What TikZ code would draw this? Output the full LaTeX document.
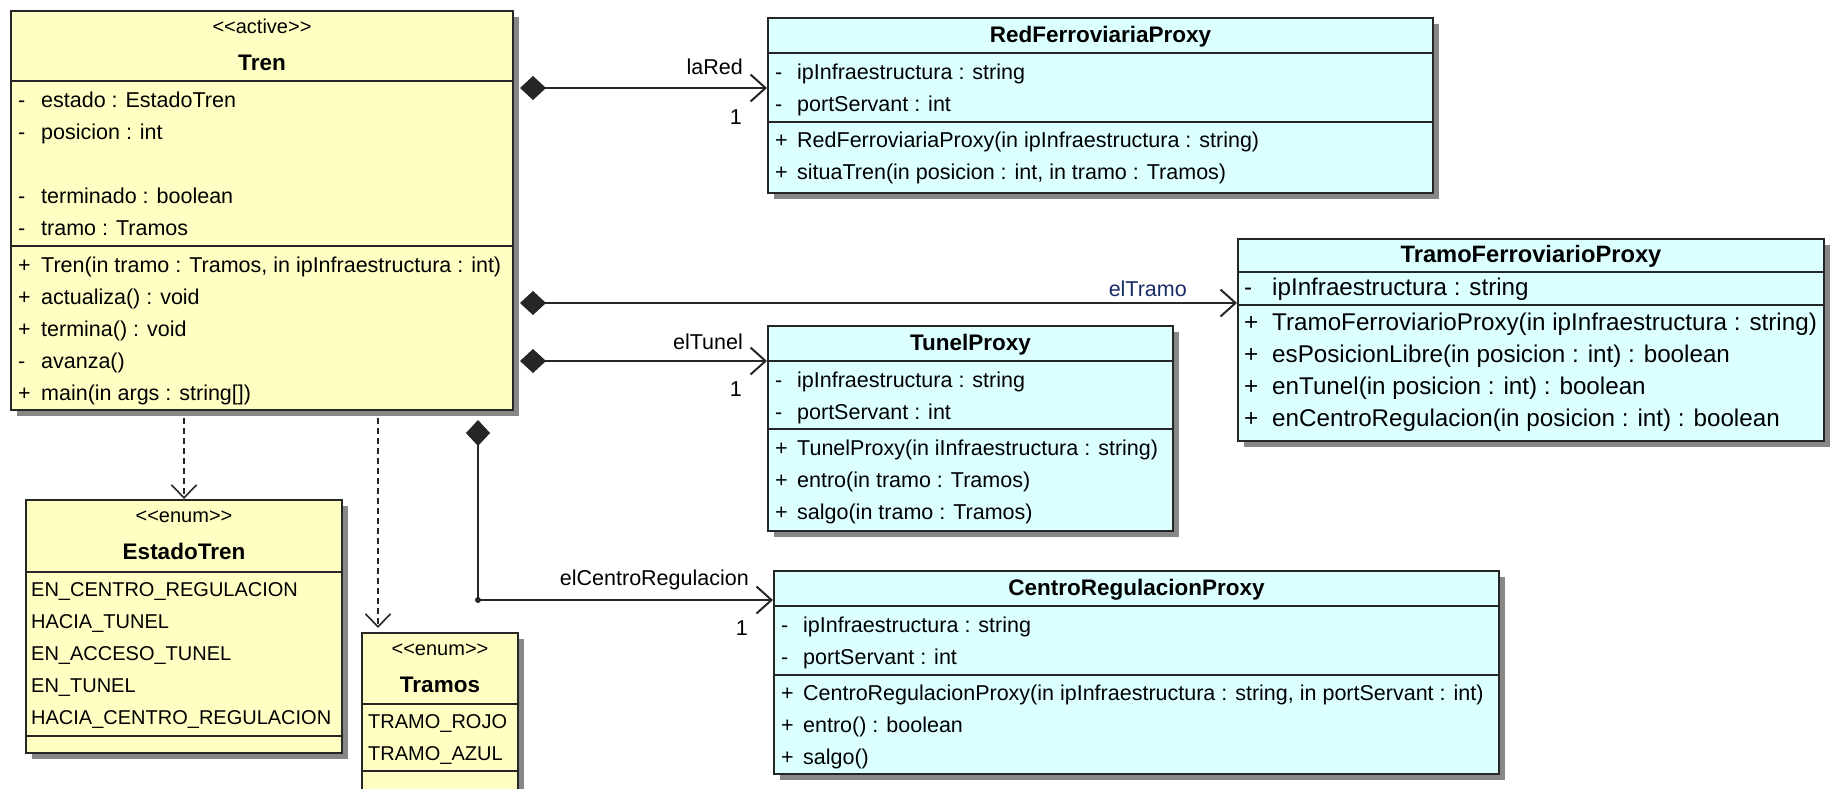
\documentclass[tikz,border=0pt]{standalone}
\usepackage{fontspec}
\setmainfont{Liberation Sans}
\usetikzlibrary{arrows.meta,shadows}

\definecolor{amarilloClase}{RGB}{255,255,196}
\definecolor{cianClase}{RGB}{220,255,255}
\definecolor{sombraClase}{RGB}{135,135,135}
\definecolor{azulRol}{RGB}{24,44,104}
\newcommand{\letra}[1]{\fontsize{#1}{#1}\selectfont}
\newcommand{\estereo}[1]{<\kern0pt<#1>\kern0pt>}

\begin{document}
\begin{tikzpicture}[x=1pt, y=-1pt,
	every node/.style={inner sep=0pt, font=\letra{21.5}},
	clase/.style={draw=black!85, line width=2pt, anchor=north west,
		drop shadow={shadow xshift=6pt, shadow yshift=-6pt, fill=sombraClase, opacity=1}},
	divisor/.style={draw=black!85, line width=2pt},
	fila/.style={anchor=base west},
	literal/.style={anchor=base west, font=\letra{20}},
	titulo/.style={anchor=base, font=\letra{22.5}\bfseries},
	estereotipo/.style={anchor=base, font=\letra{20}},
	rol/.style={anchor=base east},
	composicion/.style={draw=black!85, line width=2pt, shorten <=6pt,
		{Diamond[length=26pt, width=24pt]}-{Straight Barb[length=15pt, width=27pt]}},
	dependencia/.style={draw=black!85, line width=1.6pt, dash pattern=on 6pt off 4pt, shorten <=7pt,
		-{Straight Barb[length=13pt, width=25pt]}}]
	\useasboundingbox (0,0) rectangle (1831,788);
	\clip (0,0) rectangle (1831,788);

	\node[clase, fill=amarilloClase, minimum width=502pt, minimum height=399pt] (tren) at (10,10) {};
	\foreach \d in {71,236} \draw[divisor] ([yshift=-\d]tren.north west) -- ([yshift=-\d]tren.north east);
	\node[estereotipo] (tren-e) at ([yshift=-23pt]tren.north) {\estereo{active}};
	\node[titulo] (tren-t) at ([yshift=-60pt]tren.north) {Tren};
	\foreach \vis/\txt/\k in {-/estado : EstadoTren/0, -/posicion : int/1, -/terminado : boolean/3, -/tramo : Tramos/4}
		\node[fila] (tren-a\k) at ([xshift=8pt, yshift={-(97+32*\k)}]tren.north west) {\makebox[23pt][l]{\vis}\txt};
	\foreach \vis/\txt [count=\k from 0] in {+/{Tren(in tramo : Tramos, in ipInfraestructura : int)}, +/actualiza() : void, +/termina() : void, -/avanza(), +/{main(in args : string[])}}
		\node[fila] (tren-m\k) at ([xshift=8pt, yshift={-(262+32*\k)}]tren.north west) {\makebox[23pt][l]{\vis}\txt};

	\node[clase, fill=cianClase, minimum width=665pt, minimum height=175pt] (red) at (767,17) {};
	\foreach \d in {36,105} \draw[divisor] ([yshift=-\d]red.north west) -- ([yshift=-\d]red.north east);
	\node[titulo] (red-t) at ([yshift=-25pt]red.north) {RedFerroviariaProxy};
	\foreach \vis/\txt [count=\k from 0] in {-/ipInfraestructura : string, -/portServant : int}
		\node[fila] (red-a\k) at ([xshift=8pt, yshift={-(62+32*\k)}]red.north west) {\makebox[22pt][l]{\vis}\txt};
	\foreach \vis/\txt [count=\k from 0] in {+/RedFerroviariaProxy(in ipInfraestructura : string), +/{situaTren(in posicion : int, in tramo : Tramos)}}
		\node[fila] (red-m\k) at ([xshift=8pt, yshift={-(130+32*\k)}]red.north west) {\makebox[22pt][l]{\vis}\txt};

	\node[clase, fill=cianClase, minimum width=586pt, minimum height=202pt] (tramo) at (1237,238) {};
	\foreach \d in {34,67} \draw[divisor] ([yshift=-\d]tramo.north west) -- ([yshift=-\d]tramo.north east);
	\node[titulo, font=\letra{23.7}\bfseries] (tramo-t) at ([yshift=-24pt]tramo.north) {TramoFerroviarioProxy};
	\node[fila, font=\letra{24.2}] (tramo-a0) at ([xshift=7pt, yshift=-57pt]tramo.north west) {\makebox[28pt][l]{-}ipInfraestructura : string};
	\foreach \vis/\txt [count=\k from 0] in {+/TramoFerroviarioProxy(in ipInfraestructura : string), +/esPosicionLibre(in posicion : int) : boolean, +/enTunel(in posicion : int) : boolean, +/enCentroRegulacion(in posicion : int) : boolean}
		\node[fila, font=\letra{24.2}] (tramo-m\k) at ([xshift=7pt, yshift={-(92+32*\k)}]tramo.north west) {\makebox[28pt][l]{\vis}\txt};

	\node[clase, fill=cianClase, minimum width=405pt, minimum height=205pt] (tunel) at (767,325) {};
	\foreach \d in {36,104} \draw[divisor] ([yshift=-\d]tunel.north west) -- ([yshift=-\d]tunel.north east);
	\node[titulo] (tunel-t) at ([yshift=-25pt]tunel.north) {TunelProxy};
	\foreach \vis/\txt [count=\k from 0] in {-/ipInfraestructura : string, -/portServant : int}
		\node[fila] (tunel-a\k) at ([xshift=8pt, yshift={-(62+32*\k)}]tunel.north west) {\makebox[22pt][l]{\vis}\txt};
	\foreach \vis/\txt [count=\k from 0] in {+/TunelProxy(in iInfraestructura : string), +/entro(in tramo : Tramos), +/salgo(in tramo : Tramos)}
		\node[fila] (tunel-m\k) at ([xshift=8pt, yshift={-(130+32*\k)}]tunel.north west) {\makebox[22pt][l]{\vis}\txt};

	\node[clase, fill=cianClase, minimum width=725pt, minimum height=203pt] (centro) at (773,570) {};
	\foreach \d in {36,105} \draw[divisor] ([yshift=-\d]centro.north west) -- ([yshift=-\d]centro.north east);
	\node[titulo] (centro-t) at ([yshift=-25pt]centro.north) {CentroRegulacionProxy};
	\foreach \vis/\txt [count=\k from 0] in {-/ipInfraestructura : string, -/portServant : int}
		\node[fila] (centro-a\k) at ([xshift=8pt, yshift={-(62+32*\k)}]centro.north west) {\makebox[22pt][l]{\vis}\txt};
	\foreach \vis/\txt [count=\k from 0] in {+/{CentroRegulacionProxy(in ipInfraestructura : string, in portServant : int)}, +/entro() : boolean, +/salgo()}
		\node[fila] (centro-m\k) at ([xshift=8pt, yshift={-(130+32*\k)}]centro.north west) {\makebox[22pt][l]{\vis}\txt};

	\node[clase, fill=amarilloClase, minimum width=316pt, minimum height=253pt] (estado) at (25,499) {};
	\foreach \d in {73,237} \draw[divisor] ([yshift=-\d]estado.north west) -- ([yshift=-\d]estado.north east);
	\node[estereotipo] (estado-e) at ([yshift=-23pt]estado.north) {\estereo{enum}};
	\node[titulo] (estado-t) at ([yshift=-60pt]estado.north) {EstadoTren};
	\foreach \txt [count=\k from 0] in {EN\_CENTRO\_REGULACION, HACIA\_TUNEL, EN\_ACCESO\_TUNEL, EN\_TUNEL, HACIA\_CENTRO\_REGULACION}
		\node[literal] (estado-l\k) at ([xshift=6pt, yshift={-(97+32*\k)}]estado.north west) {\txt};

	\node[clase, fill=amarilloClase, minimum width=156pt, minimum height=175pt] (tramos) at (361,632) {};
	\foreach \d in {72,139} \draw[divisor] ([yshift=-\d]tramos.north west) -- ([yshift=-\d]tramos.north east);
	\node[estereotipo] (tramos-e) at ([yshift=-23pt]tramos.north) {\estereo{enum}};
	\node[titulo] (tramos-t) at ([yshift=-60pt]tramos.north) {Tramos};
	\foreach \txt [count=\k from 0] in {TRAMO\_ROJO, TRAMO\_AZUL}
		\node[literal] (tramos-l\k) at ([xshift=7pt, yshift={-(96+32*\k)}]tramos.north west) {\txt};

	\coordinate (red-in) at ([yshift=-71pt]red.north west);
	\coordinate (tramo-in) at ([yshift=-65pt]tramo.north west);
	\coordinate (tunel-in) at ([yshift=-36pt]tunel.north west);
	\coordinate (centro-in) at ([yshift=-30pt]centro.north west);
	\coordinate (tren-pie) at ([xshift=216pt]tren.south);
	\coordinate (codo) at (tren-pie |- centro-in);
	\coordinate (tramos-in) at ([xshift=-62pt]tramos.north);

	\draw[composicion] (tren.east |- red-in) -- (red-in);
	\draw[composicion] (tren.east |- tramo-in) -- (tramo-in);
	\draw[composicion] (tren.east |- tunel-in) -- (tunel-in);
	\draw[composicion, shorten <=9pt] (tren-pie) -- (codo) -- (centro-in);
	\fill[black!85] (codo) circle (3pt);
	\draw[dependencia] (tren.south -| estado.north) -- (estado.north);
	\draw[dependencia, shorten >=4pt] (tren.south -| tramos-in) -- (tramos-in);

	\node[rol] (rol-red) at ([xshift=-24pt, yshift=14pt]red-in) {laRed};
	\node[rol] (mult-red) at ([xshift=-25pt, yshift=-36pt]red-in) {1};
	\node[rol, text=azulRol] (rol-tramo) at ([xshift=-50pt, yshift=7pt]tramo-in) {elTramo};
	\node[rol] (rol-tunel) at ([xshift=-24pt, yshift=12pt]tunel-in) {elTunel};
	\node[rol] (mult-tunel) at ([xshift=-25pt, yshift=-35pt]tunel-in) {1};
	\node[rol] (rol-centro) at ([xshift=-24pt, yshift=15pt]centro-in) {elCentroRegulacion};
	\node[rol] (mult-centro) at ([xshift=-25pt, yshift=-35pt]centro-in) {1};
\end{tikzpicture}
\end{document}
